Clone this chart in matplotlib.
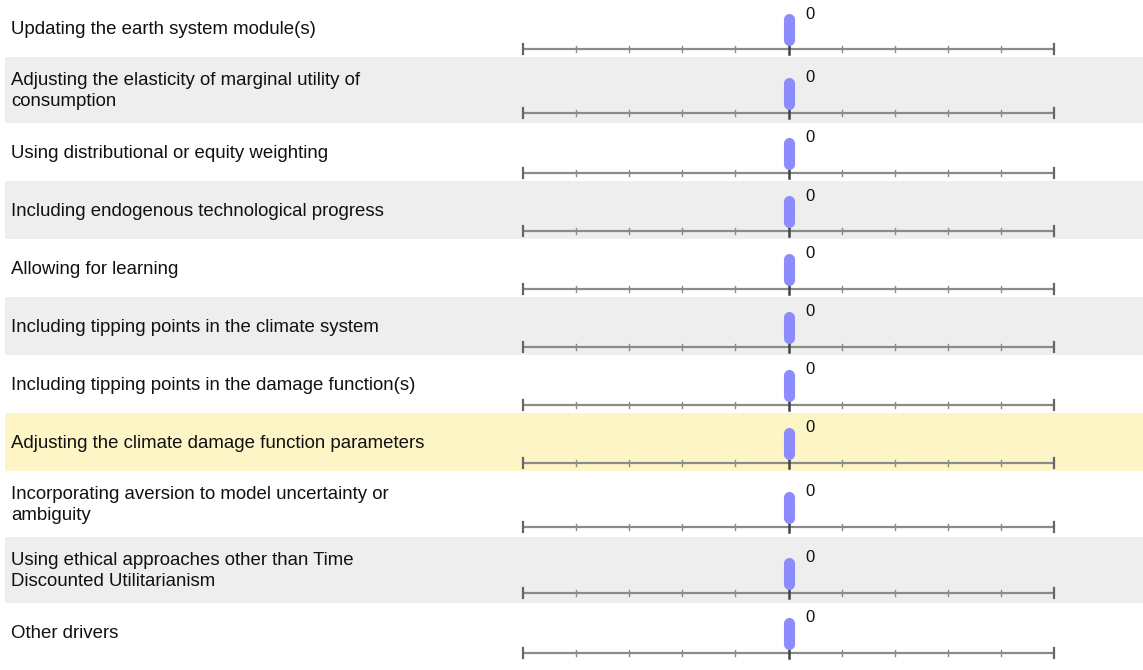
import matplotlib.pyplot as plt
from matplotlib.patches import Rectangle

# slider questions (survey screenshot)
labels = [
    "Updating the earth system module(s)",
    "Adjusting the elasticity of marginal utility of\nconsumption",
    "Using distributional or equity weighting",
    "Including endogenous technological progress",
    "Allowing for learning",
    "Including tipping points in the climate system",
    "Including tipping points in the damage function(s)",
    "Adjusting the climate damage function parameters",
    "Incorporating aversion to model uncertainty or\nambiguity",
    "Using ethical approaches other than Time\nDiscounted Utilitarianism",
    "Other drivers",
]
values = [0, 0, 0, 0, 0, 0, 0, 0, 0, 0, 0]
scale_min, scale_max = -5, 5
ticks = [-5, -4, -3, -2, -1, 0, 1, 2, 3, 4, 5]
highlight_row = 7

W, H = 1143, 670
plt.rcParams['font.family'] = ['Liberation Sans', 'DejaVu Sans']

fig = plt.figure(figsize=(W / 100, H / 100), dpi=100)
bg = fig.add_axes([0, 0, 1, 1])
bg.set_xlim(0, W)
bg.set_ylim(H, 0)
bg.axis('off')

handle_color = '#8c8cff'
track_color = '#8a8a8a'

top = -1
for i, (label, val) in enumerate(zip(labels, values)):
    n = label.count('\n') + 1
    h = 58 if n == 1 else 66
    d = 6 * (n - 1)

    # row background
    if i == highlight_row:
        bg.add_patch(Rectangle((5, top), W - 5, h, color='#fdf5c6', lw=0))
    elif i % 2 == 1:
        bg.add_patch(Rectangle((5, top), W - 5, h, color='#eeeeee', lw=0))

    bg.text(11, top + h / 2 + 1, label, va='center', ha='left',
            fontsize=13.4, color='#111111', linespacing=1.3)

    # slider axes for this row, y in pixels from row top
    ax = fig.add_axes([513 / W, 1 - (top + h) / H, 551 / W, h / H])
    pad = (scale_max - scale_min) * 10 / 531
    ax.set_xlim(scale_min - pad, scale_max + pad)
    ax.set_ylim(h, 0)
    ax.axis('off')

    ty = 50 + d
    ax.plot([scale_min, scale_max], [ty, ty], color=track_color, lw=1.6,
            solid_capstyle='butt', zorder=1)
    for t in ticks:
        if t in (scale_min, scale_max):
            ax.plot([t, t], [ty - 5, ty + 5], color='#666666', lw=1.6, zorder=2)
        elif t == 0:
            ax.plot([t, t], [ty - 4, ty + 5], color='#444444', lw=1.8, zorder=2)
        else:
            ax.plot([t, t], [ty - 3, ty + 3], color='#8a8a8a', lw=1.0, zorder=2)

    # slider handle
    ax.plot([val, val], [ty - 30.5, ty - 9.5], color=handle_color, lw=8,
            solid_capstyle='round', zorder=3)
    ax.annotate(str(val), xy=(val, ty - 35), xytext=(22, 0),
                textcoords='offset pixels', ha='center', va='center',
                fontsize=12, color='#111111')

    top += h

fig.savefig('out.png', dpi=100)
